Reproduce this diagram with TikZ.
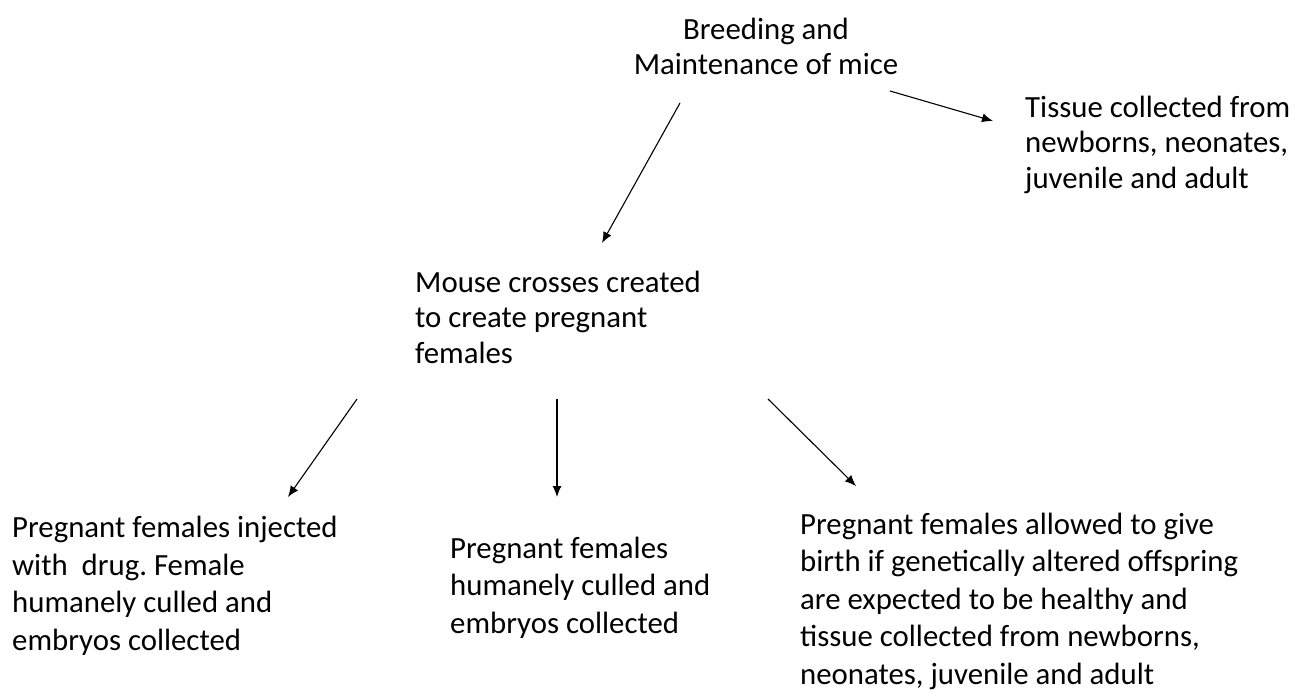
\documentclass[tikz,border=0pt]{standalone}
\usepackage{fontspec}
\setmainfont{Carlito}
\usetikzlibrary{arrows.meta}

\tikzset{
	stage/.style = {inner sep = 0, align = left, font = \fontsize{30.8}{35.5}\selectfont\frenchspacing},
	outcome/.style = {stage, font = \fontsize{30.8}{37.5}\selectfont\frenchspacing}
}

\begin{document}
\begin{tikzpicture}[> = {Latex[length = 11pt, width = 9pt]}, x = 1pt, y = -1pt]

	\useasboundingbox (0, 0) rectangle (1298, 690);

	% Breeding stock and the tissue taken from it (placed by the last line)

	\node [stage, align = center, anchor = base] (breeding) at (766, 75) {Breeding and\\Maintenance of mice};
	\node [stage, anchor = base west] (tissue) at (1025, 188) {Tissue collected from\\newborns, neonates,\\juvenile and adult};

	% The crosses

	\node [stage, anchor = base west] (crosses) at (415, 363) {Mouse crosses created\\to create pregnant\\females};

	% What happens to the pregnant females

	\node [outcome, anchor = base west] (injected) at (12, 650) {Pregnant females injected\\with\ \ drug. Female\\humanely culled and\\embryos collected};
	\node [outcome, anchor = base west] (culled) at (450, 633) {Pregnant females\\humanely culled and\\embryos collected};
	\node [outcome, anchor = base west] (born) at (800, 684) {Pregnant females allowed to give\\birth if genetically altered offspring\\are expected to be healthy and\\tissue collected from newborns,\\neonates, juvenile and adult};

	% Arrow ends

	\coordinate (breeding-l) at (680, 103);
	\coordinate (crosses-t) at (602, 243);
	\coordinate (breeding-r) at (890, 91);
	\coordinate (tissue-l) at (993, 121);
	\coordinate (crosses-l) at (357, 399);
	\coordinate (injected-t) at (288, 497);
	\coordinate (crosses-m) at (557, 399);
	\coordinate (culled-t) at (557, 497);
	\coordinate (crosses-r) at (768, 399);
	\coordinate (born-t) at (856, 486);

	\begin{scope}[line width = 1.1pt, ->]

		\draw (breeding-l) -- (crosses-t);
		\draw (breeding-r) -- (tissue-l);
		\draw (crosses-l) -- (injected-t);
		\draw (crosses-m) -- (culled-t);
		\draw (crosses-r) -- (born-t);

	\end{scope}

\end{tikzpicture}
\end{document}
